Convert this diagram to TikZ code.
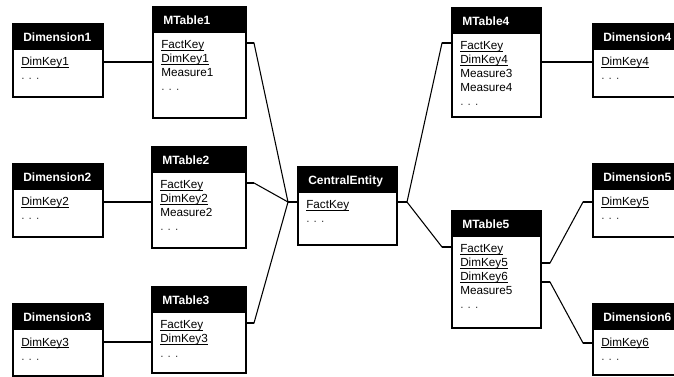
\documentclass[tikz,border=0pt]{standalone}
\usepackage{fontspec}
\setmainfont{Liberation Sans}
\usetikzlibrary{calc}
\tikzset{
  entbox/.style={draw=black, line width=1.5pt, fill=white, inner sep=0pt, outer sep=0pt, anchor=north west},
  hdrtext/.style={text=white, font=\bfseries\fontsize{9}{10}\selectfont, anchor=base west, inner sep=0pt},
  bodytext/.style={font=\fontsize{8.8}{10.5}\selectfont, anchor=base west, inner sep=0pt},
  conn/.style={line width=0.8pt, black},
  stubline/.style={line width=2pt, black},
}
\newsavebox\ukeybox
\newcommand\ukey[1]{\sbox\ukeybox{#1}\rlap{\rule[-1.4pt]{\wd\ukeybox}{0.5pt}}\usebox\ukeybox}
\newcommand\entity[7]{%
  \node[entbox, minimum width=#4*0.75pt, minimum height=#5*0.75pt] (#1) at (#2,#3) {};
  \fill[black] (#1.north west) rectangle ($(#1.north east)+(0,26)$);
  \draw[line width=1.5pt] (#1.north west) rectangle (#1.south east);
  \node[hdrtext] (#1-t) at ($(#1.north west)+(10,18)$) {#6};
  \foreach \t [count=\i] in {#7} {\node[bodytext] at ($(#1.north west)+(8,28+14*\i)$) {\t};}
}
\newcommand\dd{\textcolor{black!75}{.\hspace{0.35em}.\hspace{0.35em}.}}
\begin{document}
\begin{tikzpicture}[x=0.75pt,y=-0.75pt]
\useasboundingbox (0,0) rectangle (674,377);
\clip (0,0) rectangle (674,377);
\fill[white] (0,0) rectangle (674,377);

\entity{d1}{13}{24}{90}{73}{Dimension1}{\ukey{DimKey1},\dd}
\entity{m1}{153}{7}{93}{111}{MTable1}{\ukey{FactKey},\ukey{DimKey1},Measure1,\dd}
\entity{d2}{13}{164}{90}{73}{Dimension2}{\ukey{DimKey2},\dd}
\entity{m2}{152}{147}{94}{101}{MTable2}{\ukey{FactKey},\ukey{DimKey2},Measure2,\dd}
\entity{d3}{13}{304}{90}{72}{Dimension3}{\ukey{DimKey3},\dd}
\entity{m3}{152}{287}{94}{86}{MTable3}{\ukey{FactKey},\ukey{DimKey3},\dd}
\entity{ce}{298}{167}{99}{78}{CentralEntity}{\ukey{FactKey},\dd}
\entity{m4}{452}{8}{89}{109}{MTable4}{\ukey{FactKey},\ukey{DimKey4},Measure3,Measure4,\dd}
\entity{d4}{593}{24}{90}{73}{Dimension4}{\ukey{DimKey4},\dd}
\entity{d5}{593}{164}{90}{73}{Dimension5}{\ukey{DimKey5},\dd}
\entity{m5}{452}{211}{89}{117}{MTable5}{\ukey{FactKey},\ukey{DimKey5},\ukey{DimKey6},Measure5,\dd}
\entity{d6}{593}{304}{90}{71}{Dimension6}{\ukey{DimKey6},\dd}

% attachment points
\coordinate (d1r) at ($(d1.north east)+(0,38)$);
\coordinate (m1l) at ($(m1.north west)+(0,55)$);
\coordinate (d2r) at ($(d2.north east)+(0,38)$);
\coordinate (m2l) at ($(m2.north west)+(0,55)$);
\coordinate (d3r) at ($(d3.north east)+(0,38)$);
\coordinate (m3l) at ($(m3.north west)+(0,55)$);
\coordinate (m1r) at ($(m1.north east)+(0,36)$);
\coordinate (m2r) at ($(m2.north east)+(0,36)$);
\coordinate (m3r) at ($(m3.north east)+(0,36)$);
\coordinate (cel) at ($(ce.north west)+(0,35)$);
\coordinate (cer) at ($(ce.north east)+(0,35)$);
\coordinate (m4l) at ($(m4.north west)+(0,35)$);
\coordinate (m4r) at ($(m4.north east)+(0,54)$);
\coordinate (d4l) at ($(d4.north west)+(0,38)$);
\coordinate (m5l) at ($(m5.north west)+(0,36)$);
\coordinate (m5ra) at ($(m5.north east)+(0,52)$);
\coordinate (m5rb) at ($(m5.north east)+(0,71)$);
\coordinate (d5l) at ($(d5.north west)+(0,38)$);
\coordinate (d6l) at ($(d6.north west)+(0,39)$);

% horizontal dimension links
\foreach \a/\b in {d1r/m1l, d2r/m2l, d3r/m3l, m4r/d4l} {
  \draw[conn] (\a) -- (\b);
  \draw[stubline] (\a) -- ++(9,0);
  \draw[stubline] (\b) -- ++(-9,0);
}
% fan into central entity
\draw[stubline] (cel) -- ++(-10,0) coordinate (celx);
\foreach \a in {m1r, m2r, m3r} {
  \draw[conn] (\a) -- ++(8,0) -- (celx);
  \draw[stubline] (\a) -- ++(8,0);
}
% fan out of central entity
\draw[stubline] (cer) -- ++(10,0) coordinate (cerx);
\foreach \b in {m4l, m5l} {
  \draw[conn] (cerx) -- ($(\b)+(-10,0)$) -- (\b);
  \draw[stubline] (\b) -- ++(-10,0);
}
% MTable5 to Dimension5/6
\foreach \a/\b in {m5ra/d5l, m5rb/d6l} {
  \draw[conn] (\a) -- ++(9,0) -- ($(\b)+(-10,0)$) -- (\b);
  \draw[stubline] (\a) -- ++(9,0);
  \draw[stubline] (\b) -- ++(-10,0);
}
\end{tikzpicture}
\end{document}
